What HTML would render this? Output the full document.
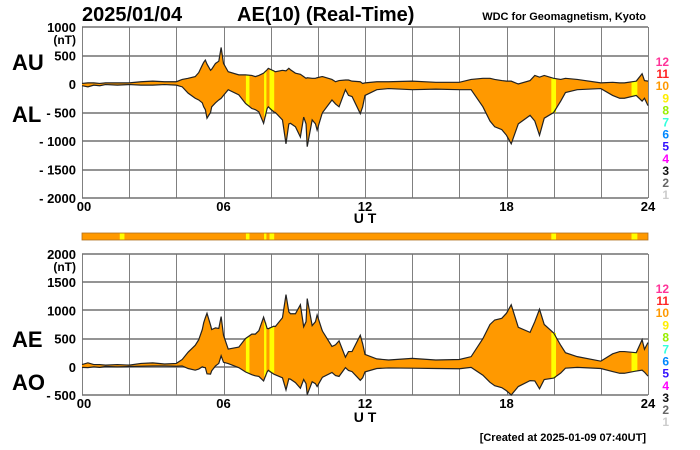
<!DOCTYPE html>
<html><head><meta charset="utf-8"><style>
html,body{margin:0;padding:0;background:#fff}
svg{display:block;font-family:"Liberation Sans",Arial,sans-serif}
</style></head><body>
<svg id="chart" width="700" height="450" viewBox="0 0 700 450">
<text x="82" y="21" font-size="20" font-weight="bold">2025/01/04</text>
<text x="237" y="21" font-size="20" font-weight="bold">AE(10) (Real-Time)</text>
<text x="646" y="20" font-size="11" font-weight="bold" text-anchor="end">WDC for Geomagnetism, Kyoto</text>
<text x="12" y="70" font-size="22" font-weight="bold">AU</text>
<text x="12" y="122" font-size="22" font-weight="bold">AL</text>
<text x="12" y="347" font-size="22" font-weight="bold">AE</text>
<text x="12" y="390" font-size="22" font-weight="bold">AO</text>
<text x="365" y="223" font-size="14" font-weight="bold" text-anchor="middle">U T</text>
<text x="365" y="422" font-size="14" font-weight="bold" text-anchor="middle">U T</text>
<text x="646" y="441" font-size="11" font-weight="bold" text-anchor="end">[Created at 2025-01-09 07:40UT]</text>
<g id="g"></g>
</svg>
<script>
const times=[0,0.25,0.5,0.75,1,1.5,2,2.5,3,3.5,4,4.25,4.5,4.8,4.95,5.1,5.16,5.23,5.3,5.45,5.5,5.66,5.8,5.9,6.0,6.2,6.65,6.93,7.2,7.35,7.5,7.7,7.85,7.9,8.13,8.2,8.5,8.65,8.77,8.84,9.05,9.26,9.4,9.5,9.55,9.76,9.9,9.97,10.18,10.2,10.6,10.75,10.9,11.17,11.3,11.45,11.8,11.9,12,12.5,13,14,15,16,16.5,17,17.3,17.5,17.8,18,18.2,18.5,19,19.2,19.4,19.6,20,20.3,20.5,21,22,22.5,22.8,23,23.5,23.75,23.85,24];
const auValues=[10,20,20,10,20,20,20,40,50,40,40,80,100,130,200,330,380,420,350,240,260,360,400,640,360,215,160,160,150,130,150,190,250,275,230,215,240,230,275,250,190,170,130,100,110,100,100,110,130,130,80,40,60,70,70,50,40,10,20,40,40,50,30,30,80,100,100,80,60,50,50,0,60,150,120,150,100,80,100,80,20,30,20,20,50,180,60,50];
const alValues=[-30,-50,-20,-30,-10,-20,-10,-20,-20,-10,-20,-50,-160,-250,-280,-330,-400,-450,-600,-500,-400,-330,-280,-250,-200,-100,-190,-340,-430,-450,-490,-690,-430,-400,-490,-500,-630,-1050,-700,-690,-750,-930,-580,-700,-1100,-630,-700,-810,-520,-500,-280,-350,-400,-100,-200,-220,-520,-400,-200,-100,-80,-100,-90,-100,-100,-400,-650,-750,-800,-900,-1050,-700,-550,-650,-900,-600,-500,-300,-150,-100,-80,-200,-250,-250,-200,-300,-250,-380];
const yellowBands=[[6.95,7.1],[7.72,7.82],[7.95,8.15],[19.9,20.1],[23.3,23.55]];
const stripYellow=[[1.6,1.8],[6.95,7.1],[7.72,7.82],[7.95,8.15],[19.9,20.1],[23.3,23.55]];
const topTicks=[1000,500,0,-500,-1000,-1500,-2000];
const botTicks=[2000,1500,1000,500,0,-500];
const xTicks=[0,6,12,18,24];
const legendNums=[12,11,10,9,8,7,6,5,4,3,2,1];
const legendCols=["#ff3399","#ff2222","#ff9900","#ffee00","#99ee00","#33ffdd","#0088ff","#3311ff","#ff00ff","#111","#666","#ccc"];
const aeValues=auValues.map((u,i)=>u-alValues[i]);
const aoValues=auValues.map((u,i)=>(u+alValues[i])/2);

const NS="http://www.w3.org/2000/svg",G=document.getElementById('g');
const X0=82,X1=648;
const xs=t=>X0+(X1-X0)*t/24;
function mk(tag,a,p){const e=document.createElementNS(NS,tag);for(const k in a)e.setAttribute(k,a[k]);(p||G).appendChild(e);return e;}
function panel(name,yTop,yBot,vMax,vMin,ticks,upper,lower){
  const ys=v=>yTop+(vMax-v)*(yBot-yTop)/(vMax-vMin);
  let gd='',hd='';
  for(let h=0;h<=24;h+=2){const x=Math.round(xs(h))+0.5;gd+='M'+x+' '+yTop+' V'+yBot+' ';}
  ticks.forEach(v=>{const y=Math.round(ys(v));hd+='M'+X0+' '+y+' H'+X1+' ';
    const t=mk('text',{x:76,y:ys(v)+5,'font-size':13,'font-weight':'bold','text-anchor':'end'});
    t.textContent=v<0?'- '+(-v):String(v);
    
    });
  const grid=mk('path',{d:gd,stroke:'#808080','stroke-width':1,fill:'none'});
  
  
  const hgrid=mk('path',{d:hd,stroke:'#707070','stroke-width':1.4,fill:'none'});
  
  
  const u=mk('text',{x:76,y:ys(ticks[0])+17,'font-size':12,'font-weight':'bold','text-anchor':'end'});u.textContent='(nT)';
  
  
  xTicks.forEach(h=>{const t=mk('text',{x:xs(h)+(h==0?2:0),y:yBot+13,'font-size':13,'font-weight':'bold','text-anchor':'middle'});
    t.textContent=String(h).padStart(2,'0');
    
    });
  let d='M'+times.map((t,i)=>xs(t)+','+ys(upper[i])).join(' L');
  for(let i=times.length-1;i>=0;i--)d+=' L'+xs(times[i])+','+ys(lower[i]);
  const area=mk('path',{d:d+'Z',fill:'#ff9900',stroke:'none'});
  
  
  const interp=(arr,t)=>{for(let i=1;i<times.length;i++)if(t<=times[i]){const f=(t-times[i-1])/(times[i]-times[i-1]);return arr[i-1]+f*(arr[i]-arr[i-1]);}return arr[arr.length-1];};
  yellowBands.forEach(b=>{const tm=(b[0]+b[1])/2;const r=mk('rect',{x:xs(b[0]),width:xs(b[1])-xs(b[0]),y:ys(interp(upper,tm)),height:ys(interp(lower,tm))-ys(interp(upper,tm)),fill:'#ffff00'});
    
    });
  const l1=mk('polyline',{points:times.map((t,i)=>xs(t)+','+ys(upper[i])).join(' '),fill:'none',stroke:'#222','stroke-width':1.2});
  
  
  const l2=mk('polyline',{points:times.map((t,i)=>xs(t)+','+ys(lower[i])).join(' '),fill:'none',stroke:'#222','stroke-width':1.2});
  
  
  const lg=mk('g',{});
  
  
  legendNums.forEach((n,i)=>{const t=mk('text',{x:669,y:yTop+39+i*12.1,'font-size':12,'font-weight':'bold','text-anchor':'end',fill:legendCols[i]},lg);t.textContent=n;
    
    });
}
panel('top-panel',27,198,1000,-2000,topTicks,auValues,alValues);
panel('bottom-panel',254,395,2000,-500,botTicks,aeValues,aoValues);
const s=mk('rect',{x:X0,y:233,width:X1-X0,height:7,fill:'#ff9900',stroke:'#b07020','stroke-width':0.8});


stripYellow.forEach(b=>{const r=mk('rect',{x:xs(b[0]),y:233.5,width:xs(b[1])-xs(b[0]),height:6,fill:'#ffff00'});
  
  });
</script>
</body></html>
